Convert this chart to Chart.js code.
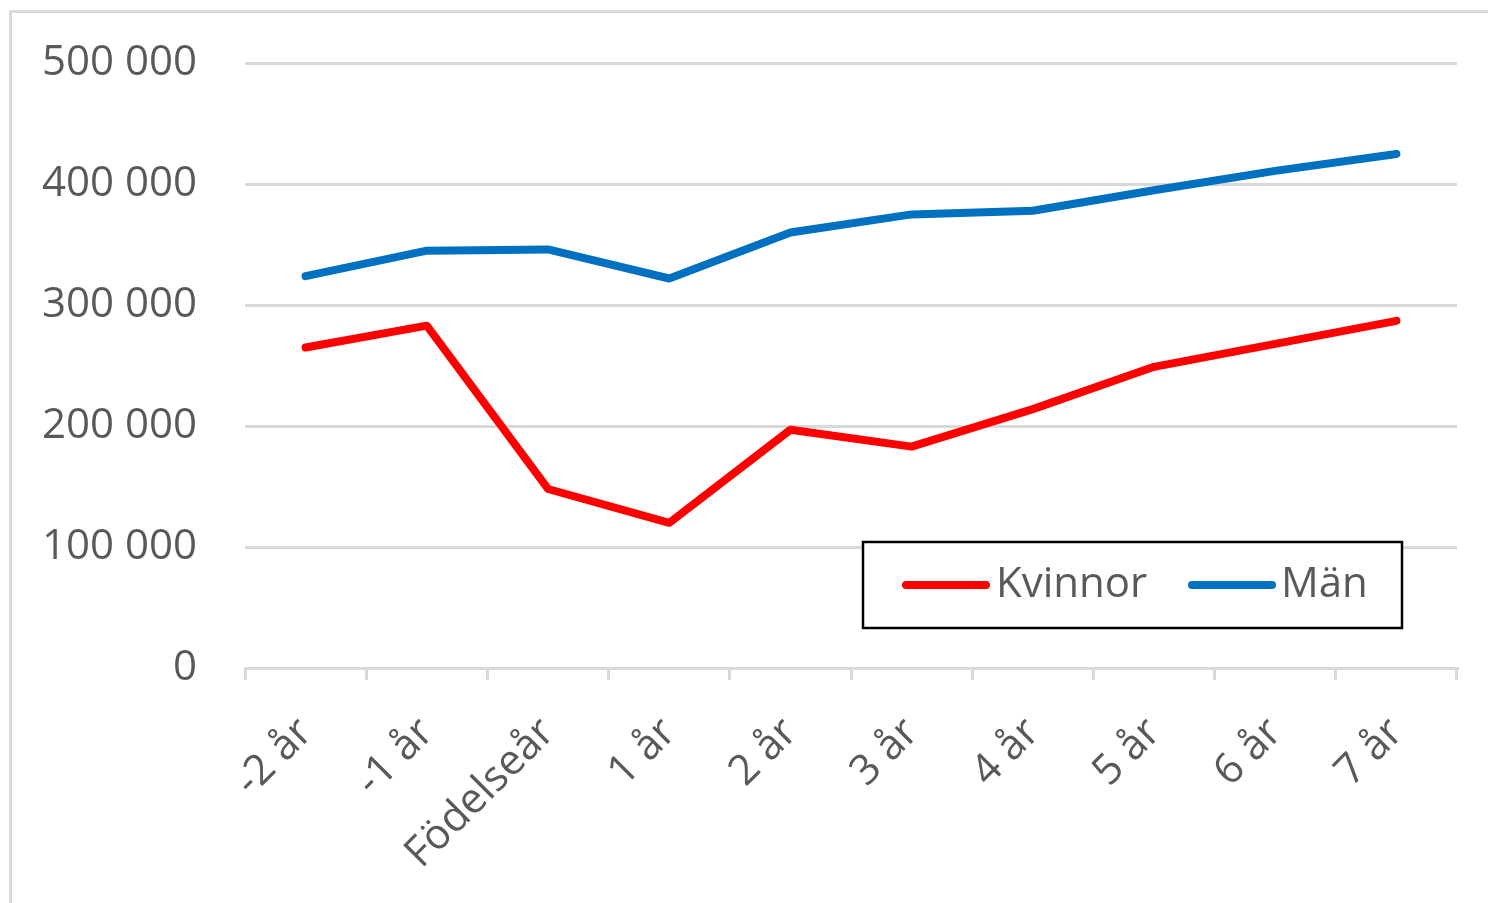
<!DOCTYPE html>
<html>
<head>
<meta charset="utf-8">
<script src="https://cdn.jsdelivr.net/npm/chart.js@4/dist/chart.umd.min.js"></script>
<style>
  html, body { margin: 0; padding: 0; background: #fff; overflow: hidden; }
  #frame { position: absolute; left: 9px; top: 10px; width: 1500px; height: 920px;
           border-left: 3px solid #d9d9d9; border-top: 3px solid #d9d9d9; }
  #wrap { position: absolute; left: 0; top: -10px; width: 1488px; height: 913px; }
</style>
</head>
<body>
<div id="frame"></div>
<div id="wrap"><canvas id="linechart"></canvas></div>
<script>
const categories = ['-2 år', '-1 år', 'Födelseår', '1 år', '2 år', '3 år', '4 år', '5 år', '6 år', '7 år'];
const kvinnor = [265000, 283000, 148000, 120000, 197000, 183000, 214000, 249000, 268000, 287000];
const man = [324000, 345000, 346000, 322000, 360000, 375000, 378000, 395000, 411000, 425000];
const seriesNames = ['Kvinnor', 'Män'];
const seriesColors = ['#ff0000', '#0070c0'];

const FONT = '"Open Sans", "Liberation Sans", sans-serif';
const TEXT = '#595959';
const GRID = '#d9d9d9';

// legend box drawn on top of the plot, like the Excel one
const boxLegend = {
    id: 'boxLegend',
    afterDatasetsDraw(chart) {
        const c = chart.ctx;
        const x = 863, y = 552, w = 539, h = 86;  // canvas is shifted up 10px
        c.save();
        c.fillStyle = '#fff';
        c.fillRect(x, y, w, h);
        c.strokeStyle = '#000';
        c.lineWidth = 2.5;
        c.strokeRect(x, y, w, h);
        c.font = '42px ' + FONT;
        c.textBaseline = 'middle';
        c.lineCap = 'round';
        c.lineWidth = 8;
        const items = [[906, 986, 996], [1192, 1272, 1281]];
        items.forEach((it, i) => {
            c.strokeStyle = seriesColors[i];
            c.beginPath();
            c.moveTo(it[0], y + 43);
            c.lineTo(it[1], y + 43);
            c.stroke();
            c.fillStyle = TEXT;
            c.fillText(seriesNames[i], it[2], y + 43);
        });
        c.restore();
    }
};

const ctx = document.getElementById('linechart').getContext('2d');
const chart = new Chart(ctx, {
    type: 'line',
    data: {
        labels: categories,
        datasets: [
            { label: seriesNames[0], data: kvinnor, borderColor: seriesColors[0] },
            { label: seriesNames[1], data: man, borderColor: seriesColors[1] }
        ]
    },
    options: {
        responsive: true,
        maintainAspectRatio: false,
        animation: false,
        layout: { padding: { top: 30, right: 31, left: 0, bottom: 0 } },
        elements: {
            line: { borderWidth: 8, tension: 0, borderCapStyle: 'round', borderJoinStyle: 'round' },
            point: { radius: 0, hoverRadius: 0 }
        },
        plugins: {
            legend: { display: false },
            tooltip: { enabled: false }
        },
        scales: {
            x: {
                offset: true,
                grid: { drawOnChartArea: false, drawTicks: true, tickLength: 12, color: GRID, lineWidth: 3, offset: true },
                border: { color: GRID, width: 3 },
                ticks: { color: TEXT, font: { family: FONT, size: 42 }, minRotation: 45, maxRotation: 45, padding: 28 },
                afterFit(scale) { scale.height = 235; }
            },
            y: {
                min: 0,
                max: 500000,
                grid: { color: GRID, lineWidth: 3, drawTicks: false },
                border: { display: false },
                ticks: {
                    stepSize: 100000,
                    color: TEXT,
                    padding: 48,
                    font: { family: FONT, size: 42 },
                    callback: v => String(v).replace(/\B(?=(\d{3})+(?!\d))/g, ' ')
                },
                afterFit(scale) { scale.width = 245; }
            }
        }
    },
    plugins: [boxLegend]
});
</script>
</body>
</html>
